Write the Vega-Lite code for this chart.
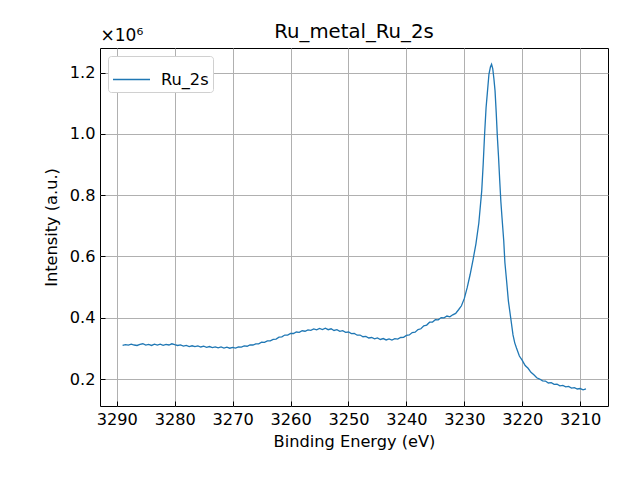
{
  "$schema": "https://vega.github.io/schema/vega-lite/v6.json",
  "autosize": {"type": "none"},
  "padding": {"left": 100, "top": 48, "right": 32, "bottom": 74},
  "width": 508,
  "height": 358,
  "background": "white",
  "title": {
    "text": "Ru_metal_Ru_2s",
    "font": "DejaVu Sans",
    "fontSize": 19.7,
    "fontWeight": "normal",
    "color": "black",
    "offset": 6,
    "dy": 22
  },
  "config": {
    "view": {"stroke": "black", "strokeWidth": 1},
    "axis": {
      "labelFont": "DejaVu Sans",
      "titleFont": "DejaVu Sans",
      "labelFontSize": 16.2,
      "titleFontSize": 16.2,
      "titleFontWeight": "normal",
      "labelColor": "black",
      "titleColor": "black",
      "domain": false,
      "grid": true,
      "gridColor": "#b0b0b0",
      "gridWidth": 1,
      "ticks": true,
      "tickSize": -5,
      "tickColor": "black",
      "tickWidth": 1
    }
  },
  "data": {
    "values": [
      {"be": 3289, "intensity": 310000, "series": "Ru_2s"},
      {"be": 3288.5, "intensity": 312500, "series": "Ru_2s"},
      {"be": 3288, "intensity": 310500, "series": "Ru_2s"},
      {"be": 3287.5, "intensity": 314000, "series": "Ru_2s"},
      {"be": 3287, "intensity": 311000, "series": "Ru_2s"},
      {"be": 3286.5, "intensity": 309500, "series": "Ru_2s"},
      {"be": 3286, "intensity": 313000, "series": "Ru_2s"},
      {"be": 3285.5, "intensity": 315000, "series": "Ru_2s"},
      {"be": 3285, "intensity": 310500, "series": "Ru_2s"},
      {"be": 3284.5, "intensity": 313000, "series": "Ru_2s"},
      {"be": 3284, "intensity": 309500, "series": "Ru_2s"},
      {"be": 3283.5, "intensity": 313500, "series": "Ru_2s"},
      {"be": 3283, "intensity": 310500, "series": "Ru_2s"},
      {"be": 3282.5, "intensity": 314000, "series": "Ru_2s"},
      {"be": 3282, "intensity": 310000, "series": "Ru_2s"},
      {"be": 3281.5, "intensity": 313000, "series": "Ru_2s"},
      {"be": 3281, "intensity": 311000, "series": "Ru_2s"},
      {"be": 3280.5, "intensity": 315000, "series": "Ru_2s"},
      {"be": 3280, "intensity": 312000, "series": "Ru_2s"},
      {"be": 3279.5, "intensity": 309500, "series": "Ru_2s"},
      {"be": 3279, "intensity": 311500, "series": "Ru_2s"},
      {"be": 3278.5, "intensity": 307500, "series": "Ru_2s"},
      {"be": 3278, "intensity": 310000, "series": "Ru_2s"},
      {"be": 3277.5, "intensity": 306000, "series": "Ru_2s"},
      {"be": 3277, "intensity": 308500, "series": "Ru_2s"},
      {"be": 3276.5, "intensity": 305500, "series": "Ru_2s"},
      {"be": 3276, "intensity": 308000, "series": "Ru_2s"},
      {"be": 3275.5, "intensity": 304500, "series": "Ru_2s"},
      {"be": 3275, "intensity": 307000, "series": "Ru_2s"},
      {"be": 3274.5, "intensity": 303500, "series": "Ru_2s"},
      {"be": 3274, "intensity": 306000, "series": "Ru_2s"},
      {"be": 3273.5, "intensity": 302500, "series": "Ru_2s"},
      {"be": 3273, "intensity": 305000, "series": "Ru_2s"},
      {"be": 3272.5, "intensity": 301500, "series": "Ru_2s"},
      {"be": 3272, "intensity": 304500, "series": "Ru_2s"},
      {"be": 3271.5, "intensity": 301000, "series": "Ru_2s"},
      {"be": 3271, "intensity": 304000, "series": "Ru_2s"},
      {"be": 3270.5, "intensity": 300500, "series": "Ru_2s"},
      {"be": 3270, "intensity": 303500, "series": "Ru_2s"},
      {"be": 3269.5, "intensity": 301000, "series": "Ru_2s"},
      {"be": 3269, "intensity": 305000, "series": "Ru_2s"},
      {"be": 3268.5, "intensity": 304000, "series": "Ru_2s"},
      {"be": 3268, "intensity": 308000, "series": "Ru_2s"},
      {"be": 3267.5, "intensity": 307000, "series": "Ru_2s"},
      {"be": 3267, "intensity": 311000, "series": "Ru_2s"},
      {"be": 3266.5, "intensity": 311000, "series": "Ru_2s"},
      {"be": 3266, "intensity": 315000, "series": "Ru_2s"},
      {"be": 3265.5, "intensity": 315000, "series": "Ru_2s"},
      {"be": 3265, "intensity": 320000, "series": "Ru_2s"},
      {"be": 3264.5, "intensity": 319500, "series": "Ru_2s"},
      {"be": 3264, "intensity": 324500, "series": "Ru_2s"},
      {"be": 3263.5, "intensity": 324500, "series": "Ru_2s"},
      {"be": 3263, "intensity": 329500, "series": "Ru_2s"},
      {"be": 3262.5, "intensity": 330500, "series": "Ru_2s"},
      {"be": 3262, "intensity": 336500, "series": "Ru_2s"},
      {"be": 3261.5, "intensity": 337500, "series": "Ru_2s"},
      {"be": 3261, "intensity": 343500, "series": "Ru_2s"},
      {"be": 3260.5, "intensity": 343500, "series": "Ru_2s"},
      {"be": 3260, "intensity": 349000, "series": "Ru_2s"},
      {"be": 3259.5, "intensity": 348500, "series": "Ru_2s"},
      {"be": 3259, "intensity": 353500, "series": "Ru_2s"},
      {"be": 3258.5, "intensity": 352500, "series": "Ru_2s"},
      {"be": 3258, "intensity": 357500, "series": "Ru_2s"},
      {"be": 3257.5, "intensity": 356000, "series": "Ru_2s"},
      {"be": 3257, "intensity": 360500, "series": "Ru_2s"},
      {"be": 3256.5, "intensity": 359000, "series": "Ru_2s"},
      {"be": 3256, "intensity": 363500, "series": "Ru_2s"},
      {"be": 3255.5, "intensity": 360500, "series": "Ru_2s"},
      {"be": 3255, "intensity": 365000, "series": "Ru_2s"},
      {"be": 3254.5, "intensity": 361500, "series": "Ru_2s"},
      {"be": 3254, "intensity": 366000, "series": "Ru_2s"},
      {"be": 3253.5, "intensity": 361000, "series": "Ru_2s"},
      {"be": 3253, "intensity": 364000, "series": "Ru_2s"},
      {"be": 3252.5, "intensity": 358500, "series": "Ru_2s"},
      {"be": 3252, "intensity": 361000, "series": "Ru_2s"},
      {"be": 3251.5, "intensity": 355500, "series": "Ru_2s"},
      {"be": 3251, "intensity": 358000, "series": "Ru_2s"},
      {"be": 3250.5, "intensity": 352500, "series": "Ru_2s"},
      {"be": 3250, "intensity": 353500, "series": "Ru_2s"},
      {"be": 3249.5, "intensity": 348000, "series": "Ru_2s"},
      {"be": 3249, "intensity": 348500, "series": "Ru_2s"},
      {"be": 3248.5, "intensity": 343000, "series": "Ru_2s"},
      {"be": 3248, "intensity": 343500, "series": "Ru_2s"},
      {"be": 3247.5, "intensity": 338000, "series": "Ru_2s"},
      {"be": 3247, "intensity": 339000, "series": "Ru_2s"},
      {"be": 3246.5, "intensity": 334000, "series": "Ru_2s"},
      {"be": 3246, "intensity": 335500, "series": "Ru_2s"},
      {"be": 3245.5, "intensity": 331000, "series": "Ru_2s"},
      {"be": 3245, "intensity": 334000, "series": "Ru_2s"},
      {"be": 3244.5, "intensity": 329000, "series": "Ru_2s"},
      {"be": 3244, "intensity": 332000, "series": "Ru_2s"},
      {"be": 3243.5, "intensity": 327500, "series": "Ru_2s"},
      {"be": 3243, "intensity": 331000, "series": "Ru_2s"},
      {"be": 3242.5, "intensity": 327000, "series": "Ru_2s"},
      {"be": 3242, "intensity": 331500, "series": "Ru_2s"},
      {"be": 3241.5, "intensity": 330500, "series": "Ru_2s"},
      {"be": 3241, "intensity": 335500, "series": "Ru_2s"},
      {"be": 3240.5, "intensity": 336000, "series": "Ru_2s"},
      {"be": 3240, "intensity": 342500, "series": "Ru_2s"},
      {"be": 3239.5, "intensity": 344000, "series": "Ru_2s"},
      {"be": 3239, "intensity": 351500, "series": "Ru_2s"},
      {"be": 3238.5, "intensity": 353000, "series": "Ru_2s"},
      {"be": 3238, "intensity": 361500, "series": "Ru_2s"},
      {"be": 3237.5, "intensity": 364000, "series": "Ru_2s"},
      {"be": 3237, "intensity": 373500, "series": "Ru_2s"},
      {"be": 3236.5, "intensity": 376000, "series": "Ru_2s"},
      {"be": 3236, "intensity": 385500, "series": "Ru_2s"},
      {"be": 3235.5, "intensity": 386000, "series": "Ru_2s"},
      {"be": 3235, "intensity": 393500, "series": "Ru_2s"},
      {"be": 3234.5, "intensity": 393000, "series": "Ru_2s"},
      {"be": 3234, "intensity": 400500, "series": "Ru_2s"},
      {"be": 3233.5, "intensity": 399500, "series": "Ru_2s"},
      {"be": 3233, "intensity": 405500, "series": "Ru_2s"},
      {"be": 3232.5, "intensity": 403000, "series": "Ru_2s"},
      {"be": 3232, "intensity": 409500, "series": "Ru_2s"},
      {"be": 3231.5, "intensity": 414000, "series": "Ru_2s"},
      {"be": 3231, "intensity": 426000, "series": "Ru_2s"},
      {"be": 3230.5, "intensity": 439000, "series": "Ru_2s"},
      {"be": 3230, "intensity": 463000, "series": "Ru_2s"},
      {"be": 3229.5, "intensity": 499000, "series": "Ru_2s"},
      {"be": 3229, "intensity": 541000, "series": "Ru_2s"},
      {"be": 3228.5, "intensity": 589000, "series": "Ru_2s"},
      {"be": 3228, "intensity": 641000, "series": "Ru_2s"},
      {"be": 3227.5, "intensity": 709000, "series": "Ru_2s"},
      {"be": 3227, "intensity": 814000, "series": "Ru_2s"},
      {"be": 3226.75, "intensity": 900000, "series": "Ru_2s"},
      {"be": 3226.5, "intensity": 1000000, "series": "Ru_2s"},
      {"be": 3226.25, "intensity": 1085000, "series": "Ru_2s"},
      {"be": 3226, "intensity": 1140000, "series": "Ru_2s"},
      {"be": 3225.75, "intensity": 1195000, "series": "Ru_2s"},
      {"be": 3225.5, "intensity": 1218000, "series": "Ru_2s"},
      {"be": 3225.3, "intensity": 1227000, "series": "Ru_2s"},
      {"be": 3225.1, "intensity": 1213000, "series": "Ru_2s"},
      {"be": 3224.9, "intensity": 1180000, "series": "Ru_2s"},
      {"be": 3224.7, "intensity": 1140000, "series": "Ru_2s"},
      {"be": 3224.5, "intensity": 1070000, "series": "Ru_2s"},
      {"be": 3224.3, "intensity": 990000, "series": "Ru_2s"},
      {"be": 3224.1, "intensity": 925000, "series": "Ru_2s"},
      {"be": 3223.9, "intensity": 850000, "series": "Ru_2s"},
      {"be": 3223.7, "intensity": 780000, "series": "Ru_2s"},
      {"be": 3223.5, "intensity": 727000, "series": "Ru_2s"},
      {"be": 3223.2, "intensity": 651000, "series": "Ru_2s"},
      {"be": 3223, "intensity": 580000, "series": "Ru_2s"},
      {"be": 3222.7, "intensity": 519000, "series": "Ru_2s"},
      {"be": 3222.4, "intensity": 455000, "series": "Ru_2s"},
      {"be": 3222, "intensity": 400000, "series": "Ru_2s"},
      {"be": 3221.6, "intensity": 344000, "series": "Ru_2s"},
      {"be": 3221.3, "intensity": 318000, "series": "Ru_2s"},
      {"be": 3221, "intensity": 301000, "series": "Ru_2s"},
      {"be": 3220.5, "intensity": 275000, "series": "Ru_2s"},
      {"be": 3220, "intensity": 261000, "series": "Ru_2s"},
      {"be": 3219.5, "intensity": 244000, "series": "Ru_2s"},
      {"be": 3219, "intensity": 235000, "series": "Ru_2s"},
      {"be": 3218.5, "intensity": 222000, "series": "Ru_2s"},
      {"be": 3218, "intensity": 214000, "series": "Ru_2s"},
      {"be": 3217.5, "intensity": 204000, "series": "Ru_2s"},
      {"be": 3217, "intensity": 200000, "series": "Ru_2s"},
      {"be": 3216.5, "intensity": 194000, "series": "Ru_2s"},
      {"be": 3216, "intensity": 193500, "series": "Ru_2s"},
      {"be": 3215.5, "intensity": 187000, "series": "Ru_2s"},
      {"be": 3215, "intensity": 188000, "series": "Ru_2s"},
      {"be": 3214.5, "intensity": 182500, "series": "Ru_2s"},
      {"be": 3214, "intensity": 183000, "series": "Ru_2s"},
      {"be": 3213.5, "intensity": 178000, "series": "Ru_2s"},
      {"be": 3213, "intensity": 179500, "series": "Ru_2s"},
      {"be": 3212.5, "intensity": 174500, "series": "Ru_2s"},
      {"be": 3212, "intensity": 176000, "series": "Ru_2s"},
      {"be": 3211.5, "intensity": 170500, "series": "Ru_2s"},
      {"be": 3211, "intensity": 172000, "series": "Ru_2s"},
      {"be": 3210.5, "intensity": 167500, "series": "Ru_2s"},
      {"be": 3210, "intensity": 169000, "series": "Ru_2s"},
      {"be": 3209.5, "intensity": 165000, "series": "Ru_2s"},
      {"be": 3209, "intensity": 168000, "series": "Ru_2s"}
    ]
  },
  "layer": [
    {
      "mark": {"type": "line", "strokeWidth": 1.3, "clip": true},
      "encoding": {
        "x": {
          "field": "be",
          "type": "quantitative",
          "title": "Binding Energy (eV)",
          "scale": {"domain": [3205.2, 3292.9], "reverse": true, "nice": false, "zero": false},
          "axis": {
            "values": [3210, 3220, 3230, 3240, 3250, 3260, 3270, 3280, 3290],
            "format": "d",
            "labelPadding": 10,
            "titlePadding": 6
          }
        },
        "y": {
          "field": "intensity",
          "type": "quantitative",
          "title": "Intensity (a.u.)",
          "scale": {"domain": [112000, 1280000], "nice": false, "zero": false},
          "axis": {
            "values": [200000, 400000, 600000, 800000, 1000000, 1200000],
            "labelExpr": "format(datum.value / 1000000, '.1f')",
            "labelPadding": 10,
            "titlePadding": 10
          }
        },
        "color": {
          "field": "series",
          "type": "nominal",
          "scale": {"range": ["#1f77b4"]},
          "legend": {
            "title": null,
            "orient": "top-left",
            "offset": 8,
            "padding": 4,
            "strokeColor": "#d0d0d0",
            "fillColor": "white",
            "cornerRadius": 3,
            "symbolType": "stroke",
            "symbolSize": 1369,
            "symbolStrokeWidth": 1.3,
            "labelFont": "DejaVu Sans",
            "labelFontSize": 16.2,
            "labelColor": "black",
            "labelOffset": 10
          }
        }
      }
    },
    {
      "mark": {"type": "line", "opacity": 0},
      "encoding": {
        "x": {"field": "be", "type": "quantitative", "scale": {"domain": [3205.2, 3292.9], "reverse": true, "nice": false, "zero": false}},
        "y": {
          "field": "intensity",
          "type": "quantitative",
          "title": "×10⁶",
          "scale": {"domain": [112000, 1280000], "nice": false, "zero": false},
          "axis": {
            "orient": "right",
            "labels": false,
            "ticks": false,
            "grid": false,
            "titleAngle": 0,
            "titleFontSize": 17,
            "titleX": -508,
            "titleY": -4,
            "titleAlign": "left",
            "titleBaseline": "bottom"
          }
        }
      }
    }
  ],
  "resolve": {"scale": {"y": "independent"}, "axis": {"y": "independent"}}
}
